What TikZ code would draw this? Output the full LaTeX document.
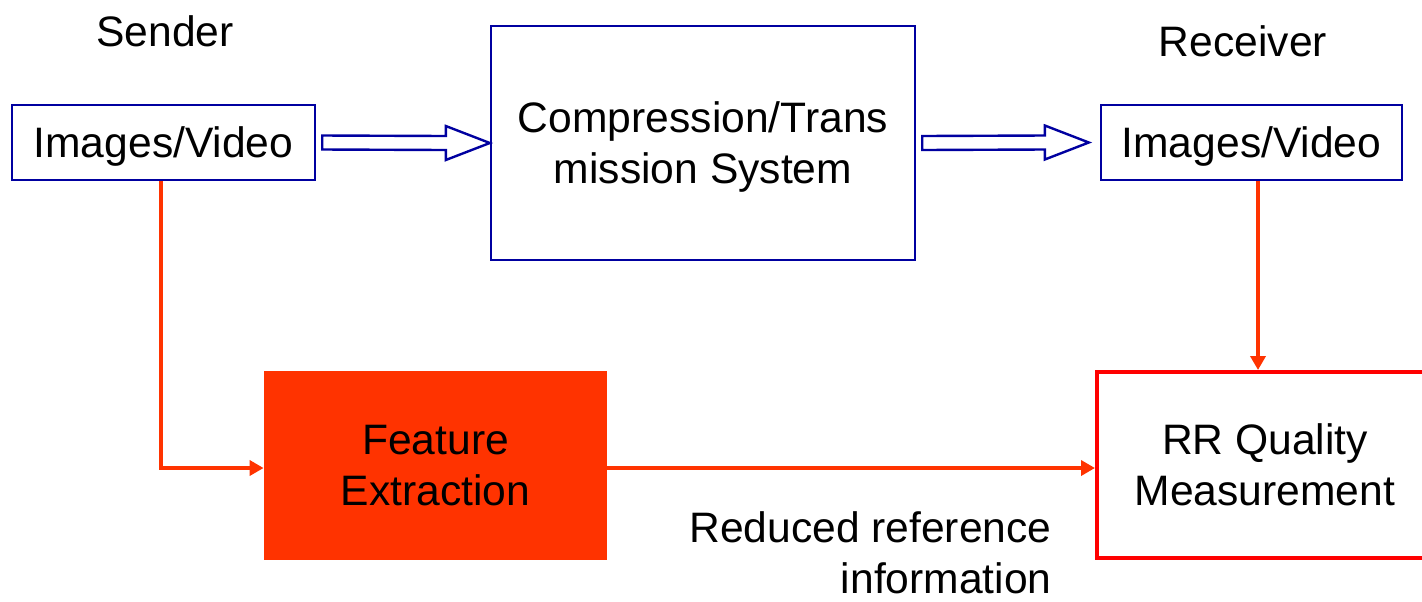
\documentclass[tikz,border=0pt]{standalone}
\usepackage{fontspec}
\setmainfont{Liberation Sans}
\usepackage{tikz}
\usetikzlibrary{calc,arrows.meta}
\definecolor{boxblue}{RGB}{0,0,160}
\definecolor{feat}{RGB}{255,51,0}
\definecolor{rrred}{RGB}{255,0,0}
% hollow block arrow: #1 source node, #2 target node, #3 gap before target
\newcommand{\hollowarrow}[3]{
  \draw[hollow] ($(#1.east)+(6,-7)$) -- ($(#2.west)+(-44-#3,-7)$) -- ($(#2.west)+(-44-#3,-17)$)
    -- ($(#2.west)+(-#3,0)$) -- ($(#2.west)+(-44-#3,17)$) -- ($(#2.west)+(-44-#3,7)$)
    -- ($(#1.east)+(6,7)$) -- cycle;}

\begin{document}
\begin{tikzpicture}[
      x=0.5pt, y=-0.5pt,
      every node/.style={font=\fontsize{21.3}{25.5}\selectfont, inner sep=0pt},
      bluebox/.style={draw=boxblue, line width=1.2pt, align=center, text depth=0pt},
      hollow/.style={draw=boxblue, line width=1.2pt, fill=white, line join=miter},
      redline/.style={draw=feat, line width=2.1pt, -{Triangle[length=7pt,width=7.5pt]}}
      ]
      \useasboundingbox (0,0) rectangle (1422,601);
      % top row
      \node (sender) at (165,31) {Sender};
      \node (receiver) at (1243,41) {Receiver};
      \node[bluebox, minimum width=151.5pt, minimum height=37.5pt] (imgL) at (163.5,142.5) {Images/Video};
      \node[bluebox, minimum width=212pt, minimum height=117pt] (comp) at (703,143) {Compression/Trans\\mission System};
      \node[bluebox, minimum width=150.5pt, minimum height=37.5pt] (imgR) at (1251.5,142.5) {Images/Video};
      % bottom row
      \node[fill=feat, minimum width=171.5pt, minimum height=94.5pt, align=center] (feature) at (435.5,465.5) {Feature\\Extraction};
      \node[draw=rrred, line width=2pt, minimum width=168pt, minimum height=93pt, align=center] (rr) at (1265,465) {RR Quality\\Measurement};
      \node[align=right, anchor=north east] (reduced) at (1052,511) {Reduced reference\\information};
      % transmission path
      \hollowarrow{imgL}{comp}{0}
      \hollowarrow{comp}{imgR}{11}
      % side channel
      \coordinate (tap) at ($(imgL.south)+(-2.5,0)$);
      \coordinate (feedin) at ($(feature.west)+(0,2.5)$);
      \draw[redline] (tap) |- (feedin);
      \draw[redline] (feature.east |- feedin) -- (rr.west |- feedin);
      \draw[redline] ($(imgR.south)+(6.5,0)$) -- ($(rr.north -| imgR.south)+(6.5,0)$);
\end{tikzpicture}
\end{document}
